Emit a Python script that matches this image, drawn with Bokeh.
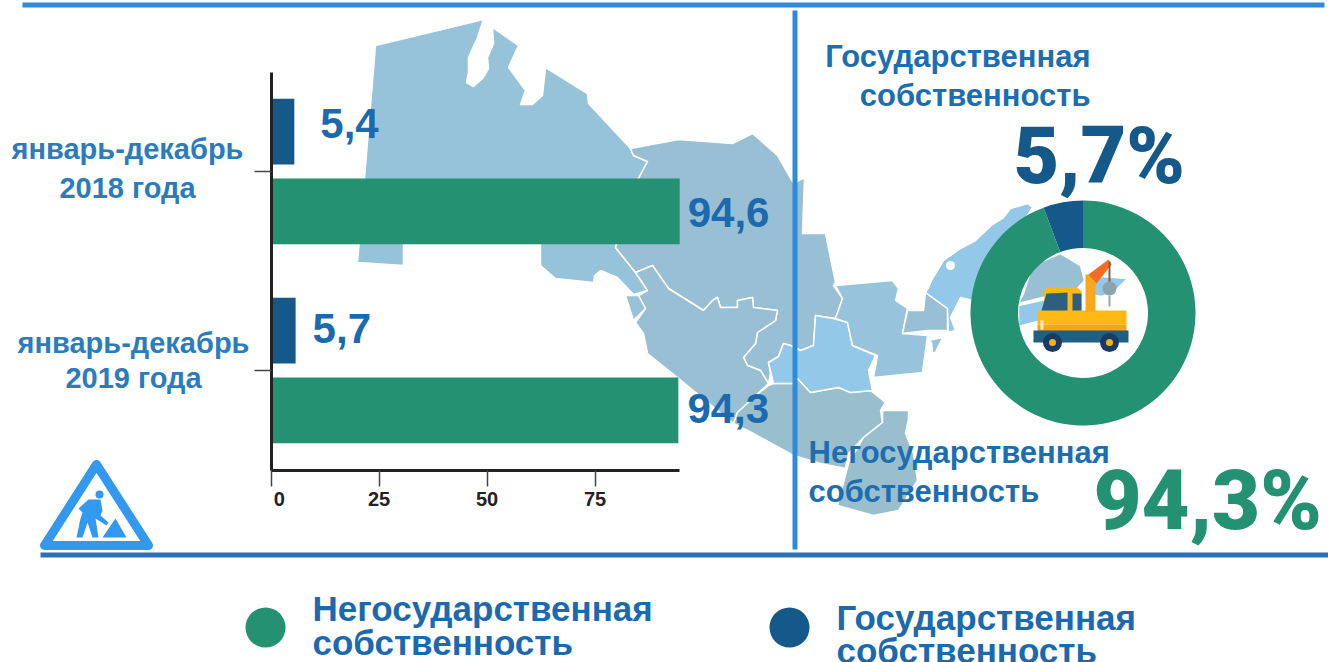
from bokeh.embed import file_html
from bokeh.resources import INLINE
from bokeh.models import Range1d, LinearAxis, FixedTicker
from bokeh.plotting import figure
from bokeh.core.properties import value
import math

# ---------- data ----------
categories = ["январь-декабрь\n2018 года", "январь-декабрь\n2019 года"]
state_share = [5.4, 5.7]
private_share = [94.6, 94.3]
x_ticks = [0, 25, 50, 75]
donut_labels = ["Государственная\nсобственность", "Негосударственная\nсобственность"]
donut_values = [5.7, 94.3]

GREEN = "#239172"
NAVY = "#15598a"
BLUE_TXT = "#1b69ae"
LINE = "#2f8ad9"
FONT = "Liberation Sans"
HEAVY = "Roboto Black"

# scales: one unit on x = 4.32 px, one category step = 199 px
X0, XK = 270.5, 4.32
Y0, YK = 171.0, 199.0
W, H = 1328, 662

p = figure(width=W, height=H, toolbar_location=None, output_backend="svg",
           x_axis_type=None, y_axis_type=None, min_border=0,
           x_range=Range1d((0 - X0) / XK, (W - X0) / XK),
           y_range=Range1d((H - Y0) / YK, (0 - Y0) / YK),
           outline_line_color=None, margin=(0, 0, 0, 0))
p.grid.visible = False
p.extra_x_ranges["px"] = Range1d(0, W)
p.extra_y_ranges["px"] = Range1d(H, 0)
PX = dict(x_range_name="px", y_range_name="px")


def poly(pts, fill, line="white", lw=1.5):
    p.patch([a for a, _ in pts], [b for _, b in pts], fill_color=fill,
            line_color=line, line_width=lw, line_join="round", **PX)


def rect(x0, y0, x1, y1, fill):
    p.quad(left=x0, right=x1, top=y0, bottom=y1, fill_color=fill, line_color=None, **PX)


def disc(x, y, r, fill):
    p.circle(x=x, y=y, radius=r, fill_color=fill, line_color=None, **PX)


def label(x, y, s, size, color, align="left", weight="bold", font=FONT):
    p.text(x=[x], y=[y], text=[s], text_font=value(font), text_font_size=f"{size}px",
           text_font_style=weight, text_color=color, text_align=align,
           text_baseline="middle", **PX)


# ---------- map (decorative background) ----------
MAP_A, MAP_B, MAP_L = "#96c3da", "#98bfd3", "#93c8e8"
karakalpak = [(375, 45), (483, 19), (477, 37), (468, 57), (468, 72), (466, 82), (473, 86), (482, 78), (488, 68),
              (487, 57), (493, 43), (492, 27), (518, 45), (508, 67), (525, 90), (520, 104), (532, 104), (542, 95),
              (545, 67), (587, 93), (588, 103), (630, 148), (633, 155), (647, 161), (637, 180), (615, 247),
              (635, 272), (647, 290), (633, 294), (617, 277), (600, 270), (594, 275), (593, 282), (555, 278),
              (540, 265), (540, 240), (403, 240), (403, 265), (357, 262)]
navoi = [(630, 148), (678, 139), (732, 143), (752, 133), (777, 155), (793, 183), (804, 177), (802, 233), (825, 233),
         (835, 282), (833, 285), (842, 298), (835, 318), (815, 315), (813, 345), (800, 350), (790, 345), (783, 343),
         (778, 356), (768, 362), (770, 373), (768, 383), (760, 370), (747, 365), (743, 357), (755, 343), (757, 332),
         (775, 320), (777, 310), (753, 307), (752, 297), (737, 300), (737, 307), (720, 307), (717, 297), (712, 300),
         (703, 310), (668, 288), (652, 265), (635, 272), (615, 247), (637, 180), (647, 161), (633, 155)]
bukhara = [(635, 272), (652, 265), (668, 288), (703, 310), (712, 300), (717, 297), (720, 307), (737, 307), (737, 300),
           (752, 297), (753, 307), (777, 310), (775, 320), (757, 332), (755, 343), (743, 357), (747, 365), (760, 370),
           (768, 383), (753, 397), (737, 412), (733, 423), (677, 377), (647, 353), (643, 333), (635, 322), (645, 308),
           (638, 295), (647, 290)]
khorezm = [(625, 295), (633, 320), (645, 308), (638, 295)]
kashka = [(773, 383), (792, 383), (797, 378), (810, 392), (838, 387), (850, 392), (870, 390), (885, 402), (880, 410),
          (882, 422), (863, 437), (848, 453), (845, 468), (820, 463), (793, 455), (753, 433), (733, 423), (737, 412),
          (753, 397), (768, 385)]
surkhan = [(882, 410), (908, 410), (908, 418), (905, 433), (913, 453), (917, 480), (898, 510), (873, 515), (837, 505),
           (848, 463), (863, 437), (882, 422)]
samarkand = [(768, 362), (778, 356), (783, 343), (790, 345), (800, 350), (813, 345), (815, 315), (833, 318), (847, 322),
             (852, 345), (875, 355), (868, 370), (872, 390), (850, 392), (838, 387), (810, 392), (797, 378), (792, 383),
             (773, 383)]
jizzakh = [(835, 285), (892, 280), (898, 288), (895, 300), (907, 308), (902, 333), (927, 335), (922, 372), (873, 377),
           (877, 355), (852, 345), (847, 322), (835, 318), (842, 298)]
syrdarya = [(925, 292), (947, 308), (947, 330), (927, 330), (902, 333), (907, 310), (923, 310)]
tashkent = [(925, 292), (928, 287), (932, 278), (943, 260), (960, 248), (975, 240), (992, 224), (1003, 217), (1010, 208),
            (1027, 203), (1032, 207), (1010, 240), (1020, 270), (1018, 297), (972, 300), (960, 297), (950, 317),
            (955, 330), (948, 332), (947, 308)]
tail = [(928, 340), (942, 337), (935, 352), (932, 352), (931, 342)]
ferghana_a = [(1018, 303), (1023, 293), (1032, 265), (1060, 253), (1080, 265), (1084, 280), (1075, 290), (1050, 295)]
ferghana_b = [(1018, 305), (1050, 298), (1052, 310), (1040, 320), (1018, 326)]
ferghana_c = [(1088, 275), (1127, 278), (1112, 293), (1100, 296), (1088, 293)]
for shape, color in [(karakalpak, MAP_A), (navoi, MAP_B), (bukhara, MAP_B), (khorezm, MAP_A), (kashka, "#99bfcf"),
                     (surkhan, "#99bfcf"), (samarkand, MAP_L), (jizzakh, "#97c3dc"), (syrdarya, MAP_B),
                     (tashkent, MAP_L), (tail, MAP_A), (ferghana_a, MAP_B), (ferghana_b, MAP_L), (ferghana_c, MAP_L)]:
    poly(shape, color)
disc(950, 265, 4.5, "white")

# ---------- frame lines ----------
rect(22, 2, 1324, 7, LINE)
rect(792, 10, 797, 549, LINE)
rect(40, 552, 1328, 557, "#2a71b5")

# ---------- bars ----------
ys = list(range(len(categories)))
p.hbar(y=[v - 0.2 for v in ys], right=state_share, left=0, height=0.33, fill_color=NAVY, line_color=None)
p.hbar(y=[v + 0.2 for v in ys], right=private_share, left=0, height=0.33, fill_color=GREEN, line_color=None)


def fmt(v):
    return f"{v}".replace(".", ",")


p.text(x=state_share, y=[v - 0.2 for v in ys], text=[fmt(v) for v in state_share], x_offset=[26, 17],
       y_offset=[-8, -2], text_font=value(FONT), text_font_size="42px", text_font_style="bold",
       text_color=BLUE_TXT, text_baseline="middle")
p.text(x=private_share, y=[v + 0.2 for v in ys], text=[fmt(v) for v in private_share], x_offset=[8, 9],
       y_offset=[1, -2], text_font=value(FONT), text_font_size="42px", text_font_style="bold", text_color=BLUE_TXT,
       text_baseline="middle")

# ---------- axes ----------
xax = LinearAxis(fixed_location=1.5, bounds=(0, 94.6), ticker=FixedTicker(ticks=x_ticks),
                 major_label_overrides={0: "\u00a0\u00a0\u00a00"},
                 major_tick_in=0, major_tick_out=16, minor_tick_line_color=None,
                 axis_line_color="#222222", axis_line_width=3, major_tick_line_color="#444444",
                 major_tick_line_width=1.5, major_label_text_font=FONT, major_label_text_font_style="bold",
                 major_label_text_font_size="20px", major_label_text_color="#222222", major_label_standoff=2)
p.add_layout(xax, "below")
yax = LinearAxis(fixed_location=0, bounds=(-0.5, 1.5), ticker=FixedTicker(ticks=ys),
                 major_label_overrides={0: "", 1: ""}, major_tick_in=0, major_tick_out=17,
                 minor_tick_line_color=None, axis_line_color="#222222", axis_line_width=3,
                 major_tick_line_color="#444444", major_tick_line_width=1.5)
p.add_layout(yax, "left")

# category labels
for i, (cx, yy) in enumerate([(127, (148, 187)), (133, (342, 377))]):
    for line_text, ty in zip(categories[i].split("\n"), yy):
        label(cx, ty, line_text, 29, "#2a7cbd", "center")

# ---------- donut ----------
CX, CY = 1082.5, 312.5
a = 0.0
for v, col in zip(donut_values, [NAVY, GREEN]):
    a1 = a + v / sum(donut_values) * 2 * math.pi
    p.annular_wedge(x=CX, y=CY, inner_radius=65, outer_radius=112.5, start_angle=math.pi / 2 + a,
                    end_angle=math.pi / 2 + a1, direction="anticlock", fill_color=col, line_color=None, **PX)
    a = a1

# ---------- truck icon ----------
rect(1037, 310, 1126, 324, "#fdb913")
rect(1037, 324, 1126, 331, "#f9a50f")
rect(1040, 320, 1043, 329, "#fff3c0")
poly([(1043, 312), (1044, 290), (1047, 287), (1077, 287), (1081, 291), (1081, 312)], "#fdb913", None, 0)
poly([(1041, 310), (1046, 293), (1067, 292), (1067, 310)], "#2f5f80", None, 0)
poly([(1072, 293), (1081, 293), (1081, 310), (1072, 310)], "#2f5f80", None, 0)
rect(1085, 274, 1095, 311, "#f8a81c")
poly([(1088, 274), (1108, 259), (1111, 264), (1096, 283)], "#f26c21", None, 0)
p.segment(x0=1109, y0=261, x1=1109, y1=282, line_color="#8a5a44", line_width=2, **PX)
disc(1109, 288, 7, "#8ba3aa")
p.segment(x0=1109, y0=295, x1=1109, y1=306, line_color="#9aa9ad", line_width=2, **PX)
rect(1033, 330, 1128, 342, "#1f5f82")
for wx in (1052, 1109):
    disc(wx, 342, 9.5, "#1a3a66")
    disc(wx, 342, 3.5, "#f2b01e")

# ---------- worker sign ----------
poly([(96, 464), (44, 545), (148, 545)], "white", "#3399ee", 9)
disc(99, 494, 4, "#3399ee")
poly([(78, 508), (88, 499), (100, 499), (102, 510), (100, 515), (108, 522), (106, 525), (95, 518), (98, 537), (92, 537),
      (87, 522), (82, 537), (76, 537), (80, 518), (82, 512)], "#3399ee", None, 0)
poly([(115, 518), (102, 537), (126, 537)], "#3399ee", None, 0)

# ---------- captions ----------
st, pr = donut_labels
label(1090, 56, st.split("\n")[0], 31, "#1c6eb0", "right")
label(1090, 95, st.split("\n")[1], 31, "#1c6eb0", "right")
label(1013, 155, f"{fmt(donut_values[0])}%", 79, NAVY, weight="normal", font=HEAVY)
label(808, 452, pr.split("\n")[0], 31, "#1c6eb0")
label(808, 491, pr.split("\n")[1], 31, "#1c6eb0")
label(1093, 500, f"{fmt(donut_values[1])}%", 83, GREEN, weight="normal", font=HEAVY)

# ---------- legend ----------
disc(265, 627, 20, GREEN)
disc(789, 627, 20, NAVY)
label(312, 608, pr.split("\n")[0], 35, "#1b69ae")
label(312, 642, pr.split("\n")[1], 35, "#1b69ae")
label(836, 617, st.split("\n")[0], 35, "#1b69ae")
label(836, 650, st.split("\n")[1], 35, "#1b69ae")

open("out.html", "w").write(file_html(p, INLINE))
